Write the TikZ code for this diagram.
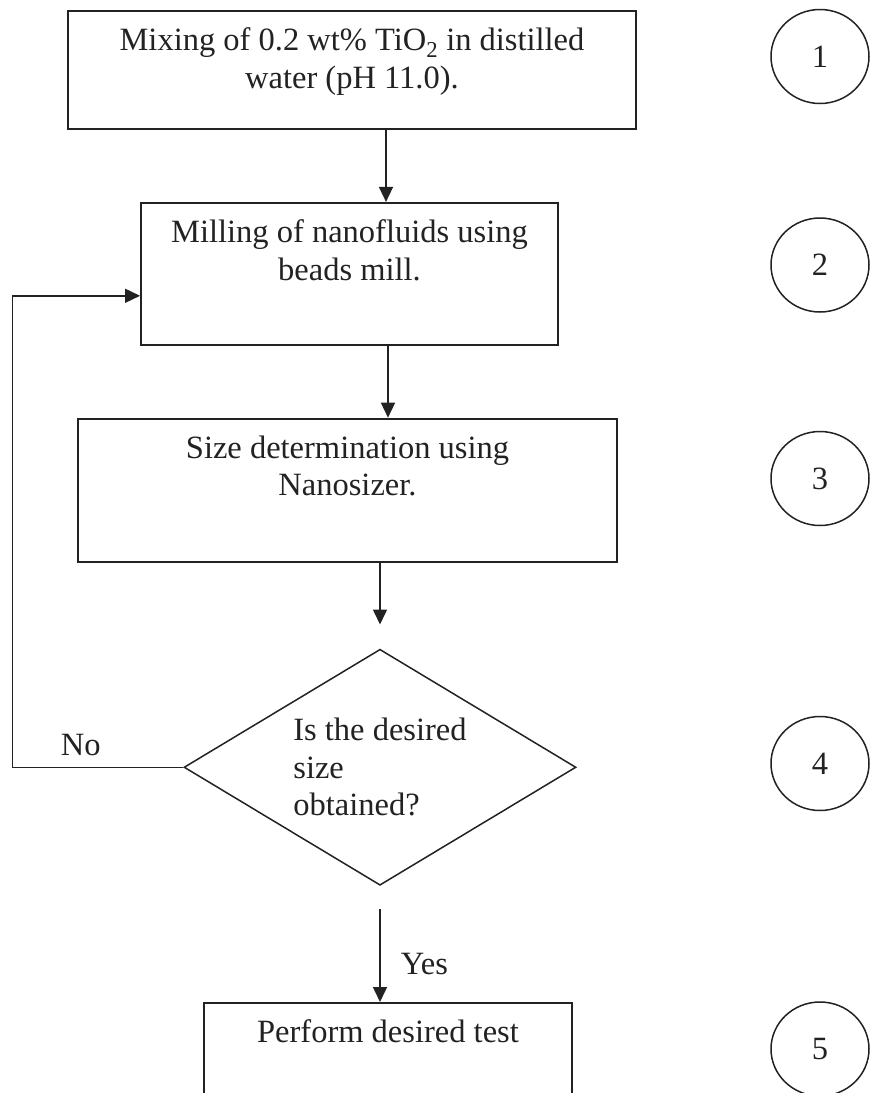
\documentclass[tikz,border=0pt]{standalone}
\usepackage{fontspec}
\setmainfont{Liberation Serif}
\usepackage{tikz}
\usetikzlibrary{shapes.geometric,arrows.meta}
\usetikzlibrary{positioning}
\definecolor{ink}{HTML}{222222}
\tikzstyle{stage} = [rectangle, draw, inner sep=0pt, line width=1.8pt]
\tikzstyle{decision} = [diamond, draw, aspect=1.66, align=left, inner sep=0pt, minimum width=392pt, minimum height=236pt, line width=1.5pt]
\tikzstyle{stepno} = [ellipse, draw, inner sep=0pt, minimum width=98pt, minimum height=94pt, line width=1.5pt]
\tikzstyle{tag} = [inner sep=4pt]
\newcommand{\stagetext}[3]{\parbox[c][#2][t]{#1}{\centering\vspace*{17pt}#3}}

\begin{document}
\begin{tikzpicture}[x=1pt,y=-1pt,node distance=72pt,color=ink,line width=1.5pt,>={Triangle[length=15pt,width=14pt]},every node/.style={font=\fontsize{32.5}{37.4}\selectfont}]
            \useasboundingbox (0,0) rectangle (883,1093);
            \node [stage] (mix) at (352,70) {\stagetext{568pt}{118pt}{Mixing of 0.2 wt\% TiO\textsubscript{2} in distilled\\water (pH 11.0).}};
            \node [stage, below=of mix, xshift=-2.5pt] (mill) {\stagetext{417pt}{142pt}{Milling of nanofluids using\\beads mill.}};
            \node [stage, below=of mill, xshift=-2pt] (sizing) {\stagetext{539pt}{143pt}{Size determination using\\Nanosizer.}};
            \node [decision, below=86pt of sizing, xshift=32.5pt] (check) {Is the desired\\size\\obtained?};
            \node [stage, below=116pt of check, xshift=8pt] (test) {\stagetext{368pt}{93.5pt}{Perform desired test}};

            \node [stepno] (n1) at (820,56.5) {1};
            \node [stepno] (n2) at (820,265) {2};
            \node [stepno] (n3) at (820,478.5) {3};
            \node [stepno] (n4) at (820,763.5) {4};
            \node [stepno] (n5) at (820,1049) {5};

            \draw[->]([xshift=34pt]mix.south) -- ([xshift=34pt]mix.south |- mill.north);
            \draw[->]([xshift=38.5pt]mill.south) -- ([xshift=38.5pt]mill.south |- sizing.north);
            \draw[->](check.north |- sizing.south) -- ([yshift=24pt]check.north);

            \draw[->]([yshift=-23pt]check.south) -- node[tag, right, pos=0.59, xshift=16pt]{Yes} (check.south |- test.north);
            \draw[->](check.west) -- node[tag, above=7pt, pos=0.6]{No} ++(-171,0) |- ([yshift=-22pt]mill.west);
        \end{tikzpicture}
\end{document}
